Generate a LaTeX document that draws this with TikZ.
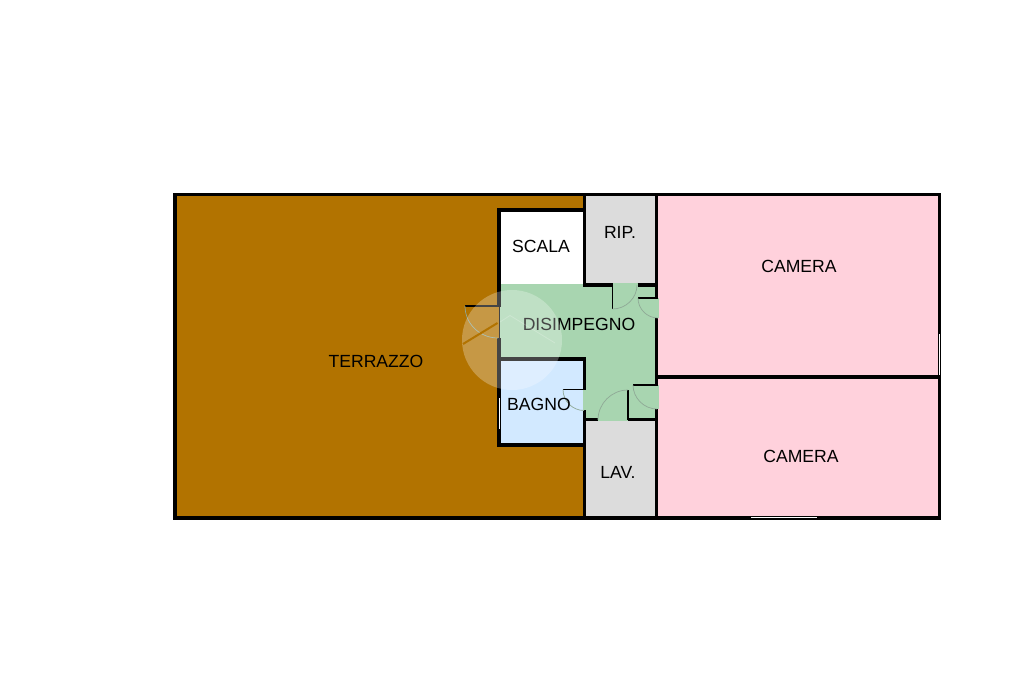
\documentclass[tikz,border=0pt]{standalone}
\usepackage{fontspec}
\setmainfont{Liberation Sans}
\definecolor{terr}{HTML}{B27300}
\definecolor{pinkr}{HTML}{FFD1DC}
\definecolor{greyr}{HTML}{DCDCDC}
\definecolor{greenr}{HTML}{A8D5B0}
\definecolor{bluer}{HTML}{D2E9FF}
\definecolor{arcc}{HTML}{8FA896}
\tikzset{
  x=1pt,y=-1pt,
  wall/.style={line width=3.1pt,black,line cap=butt},
  jamb/.style={line width=1.5pt,black},
  doorarc/.style={line width=0.7pt,arcc},
  winline/.style={line width=1pt,white},
  lab/.style={font=\fontsize{17.6pt}{20pt}\selectfont,text=black,inner sep=0pt}
}
\begin{document}
\begin{tikzpicture}
\useasboundingbox (0,0) rectangle (1024,682);
\fill[white] (0,0) rectangle (1024,682);
% rooms
\fill[terr] (175,195) rectangle (585,518);
\fill[white] (499,210) rectangle (585,285);
\fill[greyr] (585,195) rectangle (657,285);
\fill[pinkr] (657,195) rectangle (939,518);
\fill[greenr] (499,284) rectangle (657,359);
\fill[greenr] (583,359) rectangle (657,420);
\fill[bluer] (499,359) rectangle (583,445);
\fill[greyr] (585,420) rectangle (657,518);
\fill[greenr] (612.5,283) rectangle (637.5,287);
\fill[greenr] (598,418) rectangle (628,421.4);
\fill[greenr] (655,298) rectangle (659,318);
\fill[greenr] (655,385) rectangle (659,409);
% walls
\draw[wall,line join=miter] (175,194.6) rectangle (939.5,518);
\draw[wall] (497.4,210) -- (586.2,210);
\draw[wall] (499,208.5) -- (499,285);
\draw[wall] (584.6,195) -- (584.6,287);
\draw[wall] (584.6,285) -- (612.5,285);
\draw[wall] (637.5,285) -- (658.4,285);
\draw[wall] (656.8,195) -- (656.8,298.8);
\draw[wall] (656.8,318) -- (656.8,385.8);
\draw[wall] (656.8,409) -- (656.8,518);
\draw[wall] (655,377) -- (939,377);
\draw[wall] (497.4,359) -- (586.2,359);
\draw[wall] (584.6,359) -- (584.6,390);
\draw[wall] (584.6,410) -- (584.6,518);
\draw[wall] (497.4,445) -- (586.2,445);
\draw[wall] (499,338) -- (499,445);
\draw[wall] (583,419.8) -- (598,419.8);
\draw[wall] (628,419.8) -- (657,419.8);
\draw[wall] (499,285) -- (499,306.8);
\draw[line width=1pt,black] (499.5,306) -- (499.5,338);
% doors
\draw[jamb] (612.5,285) -- (612.5,309);
\draw[doorarc] (612.5,309) .. controls (626,309) and (637,298) .. (637,285);
\draw[jamb] (638,298) -- (657,298);
\draw[doorarc] (638,298) .. controls (638,309) and (647,318) .. (658,318);
\draw[jamb] (628,420) -- (628,390);
\draw[doorarc] (628,390) .. controls (611.5,390) and (598,403.5) .. (598,420);
\draw[jamb] (633,385) -- (657,385);
\draw[doorarc] (633,385) .. controls (633,398) and (644,409) .. (657,409);
\draw[jamb] (563,389.5) -- (585,389.5);
\draw[doorarc] (563,389.5) .. controls (563,401) and (572.5,410.5) .. (584,410.5);
\draw[jamb] (465,306) -- (498,306);
\draw[doorarc] (465,306) .. controls (465,324) and (480,338) .. (498,338);
% windows
\draw[winline] (499.5,398) -- (499.5,429);
\draw[winline] (751,517.5) -- (817,517.5);
\draw[winline] (939.3,334) -- (939.3,375);
% labels
\node[lab] (t1) at (376,361.3) {TERRAZZO};
\node[lab] (t2) at (541,246.3) {SCALA};
\node[lab] (t3) at (620,232.3) {RIP.};
\node[lab] (t4) at (799,266.3) {CAMERA};
\node[lab] (t5) at (579,324.3) {DISIMPEGNO};
\node[lab] (t6) at (539,404.3) {BAGNO};
\node[lab] (t7) at (618,472.3) {LAV.};
\node[lab] (t8) at (801,456.3) {CAMERA};
% watermark
\fill[white,opacity=0.27] (512,340) circle[radius=50];
\draw[line width=2pt,terr] (463,344) -- (497.5,323);
\draw[line width=0.8pt,white,opacity=0.22] (500,322) -- (510,315.5) -- (555,343);
\end{tikzpicture}
\end{document}
